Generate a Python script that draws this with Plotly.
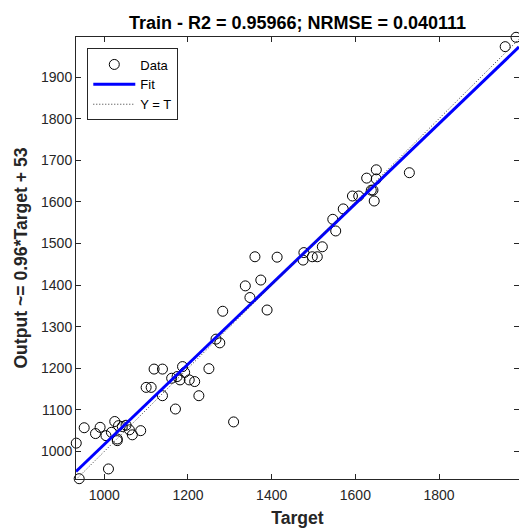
import plotly.graph_objects as go
import numpy as np

# ---- data ----
target = [933, 940, 952, 979, 990, 1004, 1010, 1017, 1025, 1031, 1031, 1034, 1043,
          1052, 1060, 1067, 1087, 1100, 1112, 1119, 1139, 1139, 1161, 1170, 1174,
          1181, 1187, 1192, 1203, 1216, 1226, 1250, 1267, 1276, 1283, 1309, 1337,
          1348, 1360, 1374, 1389, 1413, 1475, 1477, 1497, 1509, 1521, 1546, 1553,
          1571, 1593, 1608, 1627, 1638, 1642, 1645, 1650, 1650, 1729, 1958, 1984]
output = [1020, 934.5, 1057, 1043, 1058, 1038, 958, 1046, 1072, 1030, 1026, 1062, 1060,
          1063, 1052, 1040, 1050, 1154, 1154, 1198, 1198, 1134, 1176, 1102, 1180,
          1172, 1204, 1190, 1172, 1168, 1134, 1199, 1270, 1261, 1337, 1071, 1398,
          1370, 1468, 1412, 1340, 1467, 1460, 1478, 1468, 1468, 1492, 1558, 1530,
          1583, 1614, 1614, 1657, 1628, 1628, 1602, 1677, 1655, 1670, 1973, 1995.5]

fit_slope = 0.964
fit_intercept = 53

x_range = [932.4, 1991.0]
y_range = [933.8, 1996.2]
x_ticks = [1000, 1200, 1400, 1600, 1800]
y_ticks = [1000, 1100, 1200, 1300, 1400, 1500, 1600, 1700, 1800, 1900]

title_text = "Train - R2 = 0.95966; NRMSE = 0.040111"
xlabel = "Target"
ylabel = "Output ~= 0.96*Target + 53"

FONT = "Liberation Sans, Arial, Helvetica, sans-serif"
AX = "#262626"

line_x = np.array(x_range)

fig = go.Figure()
fig.add_trace(go.Scatter(
    x=target, y=output, mode="markers", name="Data",
    marker=dict(symbol="circle-open", size=10, color="black", line=dict(width=1, color="black")),
    cliponaxis=False,
))
fig.add_trace(go.Scatter(
    x=line_x, y=fit_slope * line_x + fit_intercept, mode="lines", name="Fit",
    line=dict(color="#0000FF", width=3),
))
fig.add_trace(go.Scatter(
    x=line_x, y=line_x, mode="lines", name="Y = T",
    line=dict(color="#333333", width=1, dash="1px,2px"),
))

axis_common = dict(
    showgrid=False, zeroline=False, showline=True, linecolor=AX, linewidth=1,
    mirror="ticks", ticks="inside", ticklen=5, tickcolor=AX, tickwidth=1,
    tickfont=dict(family=FONT, size=14, color=AX),
)

fig.update_layout(
    width=519, height=529,
    margin=dict(l=76, r=0, t=37, b=50),
    paper_bgcolor="white", plot_bgcolor="white",
    title=dict(text="<b>" + title_text + "</b>", x=0.5, xref="paper",
               y=1 - 23 / 529, yref="container", yanchor="middle",
               font=dict(family=FONT, size=18, color="black")),
    xaxis=dict(range=x_range, tickvals=x_ticks, ticklabelstandoff=3, **axis_common,
               title=dict(text="<b>" + xlabel + "</b>", standoff=9,
                          font=dict(family=FONT, size=17.6, color=AX))),
    yaxis=dict(range=y_range, tickvals=y_ticks, **axis_common,
               title=dict(text="<b>" + ylabel + "</b>", standoff=8,
                          font=dict(family=FONT, size=17.6, color=AX))),
    legend=dict(x=0.0255, y=0.974, xanchor="left", yanchor="top",
                bgcolor="white", bordercolor=AX, borderwidth=1,
                font=dict(family=FONT, size=13, color="black"),
                itemwidth=42, tracegroupgap=0),
    showlegend=True,
)

fig.write_html("out.html")
